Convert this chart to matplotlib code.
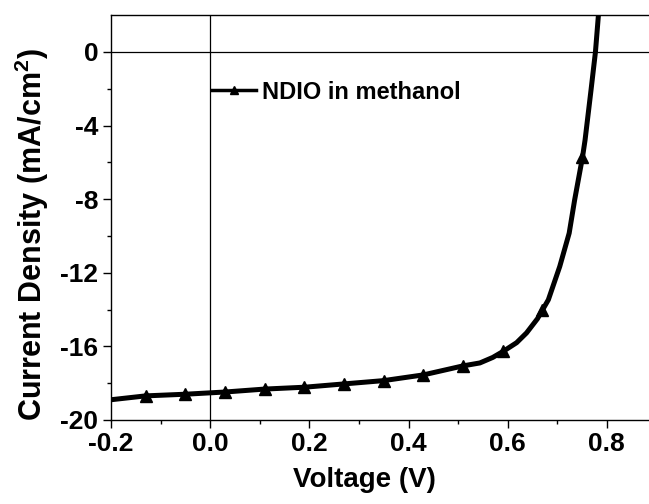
import matplotlib
matplotlib.use("Agg")
import matplotlib.pyplot as plt

# J-V curve (V, mA/cm^2)
line_v = [-0.20, -0.13, -0.05, 0.03, 0.11, 0.19, 0.27, 0.35, 0.43, 0.51, 0.544,
          0.57, 0.591, 0.618, 0.638, 0.66, 0.682, 0.705, 0.724, 0.735, 0.751, 0.756,
          0.768, 0.777, 0.783]
line_j = [-18.9, -18.69, -18.6, -18.48, -18.32, -18.22, -18.04, -17.86, -17.55, -17.06, -16.9,
          -16.6, -16.27, -15.8, -15.27, -14.5, -13.47, -11.66, -9.85, -8.05, -5.70, -4.80,
          -2.09, 0.0, 2.0]

# marker positions
mark_v = [-0.13, -0.05, 0.03, 0.11, 0.19, 0.27, 0.35, 0.43, 0.51, 0.59, 0.67, 0.75]
mark_j = [-18.69, -18.6, -18.48, -18.32, -18.22, -18.04, -17.86, -17.55, -17.06, -16.27, -14.0, -5.70]

plt.rcParams['font.family'] = ['Liberation Sans', 'DejaVu Sans']
plt.rcParams['font.weight'] = 'bold'
plt.rcParams['axes.unicode_minus'] = False
plt.rcParams['mathtext.fontset'] = 'custom'
plt.rcParams['mathtext.rm'] = 'Liberation Sans:bold'
plt.rcParams['mathtext.bf'] = 'Liberation Sans:bold'

fig = plt.figure(figsize=(6.49, 5.04), dpi=100)
ax = fig.add_axes([0.171, 0.1667, 0.829, 0.8033])

ax.axhline(0, color='black', lw=0.9, zorder=1)
ax.axvline(0, color='black', lw=0.9, zorder=1)

ax.plot(line_v, line_j, color='black', lw=3.6, solid_joinstyle='round', zorder=3)
ax.plot(mark_v, mark_j, linestyle='none', marker='^', color='black', ms=8, zorder=4)
# legend handle
ax.plot([], [], color='black', lw=2.5, marker='^', ms=6, label='NDIO in methanol')

ax.set_xlim(-0.2, 0.885)
ax.set_ylim(-20, 2)
ax.set_xticks([-0.2, 0.0, 0.2, 0.4, 0.6, 0.8])
ax.set_xticks([-0.1, 0.1, 0.3, 0.5, 0.7], minor=True)
ax.set_yticks([-20, -16, -12, -8, -4, 0])
ax.set_yticks([-18, -14, -10, -6, -2], minor=True)
ax.set_xticklabels(['-0.2', '0.0', '0.2', '0.4', '0.6', '0.8'])

ax.spines['right'].set_visible(False)
for s in ['left', 'bottom', 'top']:
    ax.spines[s].set_linewidth(1.0)
ax.tick_params(axis='both', which='major', direction='out', length=5.5, width=1.0,
               labelsize=19, pad=3.5)
ax.tick_params(axis='both', which='minor', direction='out', length=3, width=1.0)

ax.set_xlabel('Voltage (V)', fontsize=20, fontweight='bold')
ax.set_ylabel('Current Density (mA/cm$^{2}$)', fontsize=22, fontweight='bold')
ax.xaxis.set_label_coords(0.472, -0.115)
ax.yaxis.set_label_coords(-0.112, 0.459)

leg = ax.legend(loc='center left', bbox_to_anchor=(0.187, 0.81), frameon=False,
                fontsize=17, handlelength=1.9, handletextpad=0.25, borderaxespad=0,
                borderpad=0)

fig.savefig('out.png', dpi=100)
